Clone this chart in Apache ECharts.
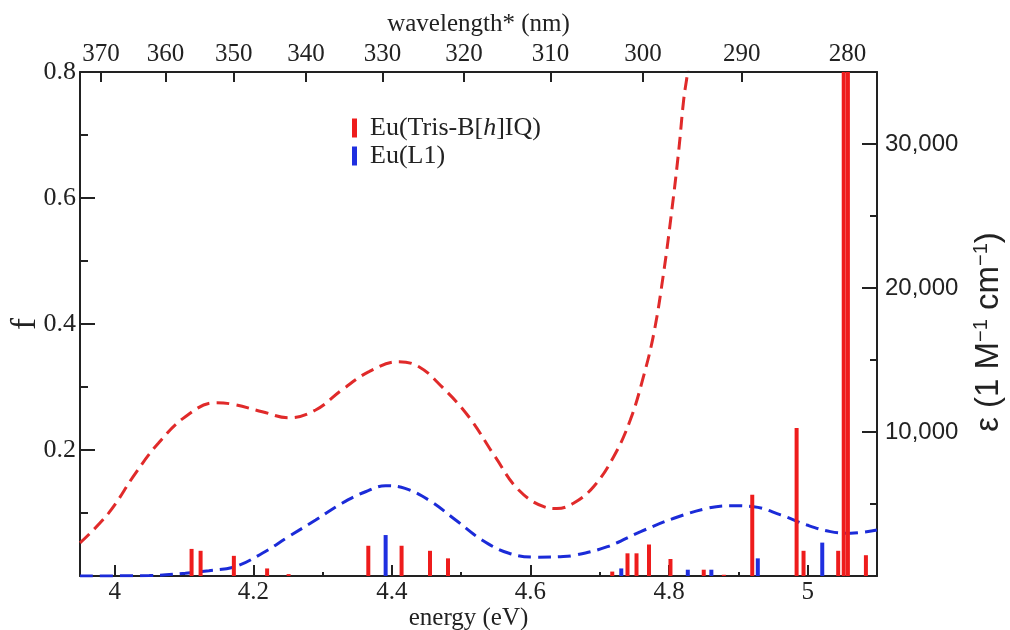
<!DOCTYPE html>
<html><head><meta charset="utf-8">
<script src="https://cdn.jsdelivr.net/npm/echarts@6/dist/echarts.min.js"></script>
<style>html,body{margin:0;padding:0;background:#fff}#c{width:1010px;height:630px}</style>
</head><body><div id="c"></div>
<script>
// ---- data ----
const energyTicks = [4, 4.2, 4.4, 4.6, 4.8, 5];
const energyMinorTicks = [4.1, 4.3, 4.5, 4.7, 4.9];
const wavelengthTicks = [370, 360, 350, 340, 330, 320, 310, 300, 290, 280];
const fTicks = [0.2, 0.4, 0.6, 0.8];
const epsTicks = [10000, 20000, 30000];
const epsMinorTicks = [5000, 15000, 25000];

const redStickEnergy = [4.111, 4.124, 4.172, 4.220, 4.251, 4.366, 4.414, 4.455, 4.481, 4.718, 4.740, 4.753, 4.771, 4.802, 4.850, 4.879, 4.920, 4.984, 4.994, 5.044, 5.052, 5.058, 5.084];
const redStickF = [0.043, 0.040, 0.032, 0.012, 0.003, 0.048, 0.048, 0.040, 0.028, 0.007, 0.036, 0.036, 0.050, 0.027, 0.010, 0.002, 0.129, 0.235, 0.040, 0.040, 1.2, 1.2, 0.033];
const blueStickEnergy = [4.391, 4.731, 4.827, 4.861, 4.928, 5.021];
const blueStickF = [0.065, 0.012, 0.010, 0.010, 0.028, 0.053];

const redCurveEnergy = [3.95, 3.991, 4.030, 4.063, 4.102, 4.145, 4.169, 4.213, 4.251, 4.290, 4.328, 4.367, 4.410, 4.439, 4.472, 4.511, 4.549, 4.583, 4.621, 4.638, 4.662, 4.691, 4.720, 4.744, 4.763, 4.778, 4.792, 4.804, 4.814, 4.821, 4.827, 4.835];
const redCurveEps = [2300, 4350, 7130, 9220, 11060, 12030, 11940, 11410, 10990, 11530, 12920, 14190, 14880, 14530, 13150, 11060, 8280, 5970, 4780, 4680, 5050, 6200, 8280, 10830, 13840, 16850, 21020, 25420, 29580, 33050, 35140, 39500];
const blueCurveEnergy = [3.95, 4.05, 4.102, 4.136, 4.174, 4.213, 4.251, 4.290, 4.328, 4.362, 4.391, 4.419, 4.453, 4.492, 4.530, 4.569, 4.607, 4.643, 4.662, 4.711, 4.759, 4.807, 4.855, 4.888, 4.922, 4.961, 4.999, 5.033, 5.062, 5.100];
const blueCurveEps = [0, 30, 190, 370, 650, 1580, 2730, 3890, 5050, 5850, 6270, 6090, 5280, 3890, 2500, 1580, 1310, 1340, 1420, 2035, 3080, 4010, 4700, 4880, 4810, 4240, 3540, 3080, 2970, 3190];

const seriesNames = ['Eu(Tris-B[h]IQ)', 'Eu(L1)'];
const WL_SHIFT = 0.629; // eV offset of the wavelength* scale: E = 1240/λ + shift

// ---- chart ----
const SERIF = '"Liberation Serif", "DejaVu Serif", serif';
const SANS = '"Liberation Sans", Arial, sans-serif';
const AX = '#222';
const RED = '#ee1c1c', BLUE = '#1f2fe0';
const RED_LINE = '#e02a2a', BLUE_LINE = '#1b2bd8';
const wlToE = wl => 1240 / wl + WL_SHIFT;
const zip = (a, b) => a.map((v, i) => [v, b[i]]);

function stick(color, w) {
  return function (params, api) {
    const x = api.value(0), y = api.value(1);
    const p1 = api.coord([x, y]);
    const p0 = api.coord([x, 0]);
    return { type: 'rect', shape: { x: p1[0] - w / 2, y: p1[1], width: w, height: p0[1] - p1[1] }, style: { fill: color } };
  };
}
const lineStyleAx = { color: AX, width: 2 };
const E_MIN = 3.95, E_MAX = 5.10;

const chart = echarts.init(document.getElementById('c'));
chart.setOption({
  animation: false,
  backgroundColor: '#fff',
  grid: { left: 80, right: 133, top: 72, bottom: 54, containLabel: false, outerBoundsMode: 'none' },
  legend: {
    orient: 'vertical', left: 347, top: 110, itemWidth: 5, itemHeight: 19, itemGap: 2,
    icon: 'rect', data: seriesNames,
    formatter: n => n === seriesNames[0] ? 'Eu(Tris-B[{i|h}]IQ)' : n,
    textStyle: { fontFamily: SERIF, fontSize: 26, color: AX, padding: [0, 0, 0, 8],
      rich: { i: { fontStyle: 'italic', fontFamily: SERIF, fontSize: 26, color: AX } } }
  },
  xAxis: [
    { type: 'value', position: 'bottom', min: E_MIN, max: E_MAX,
      name: 'energy (eV)', nameLocation: 'middle', nameGap: 30, nameMoveOverlap: false,
      nameTextStyle: { fontFamily: SERIF, fontSize: 25, color: AX, padding: [0, 20, 0, 0] },
      axisLine: { show: true, onZero: false, lineStyle: lineStyleAx },
      axisTick: { show: true, inside: true, length: 11, customValues: energyTicks, lineStyle: lineStyleAx },
      axisLabel: { customValues: energyTicks, margin: 4, fontFamily: SERIF, fontSize: 25, color: AX },
      splitLine: { show: false } },
    { type: 'value', position: 'bottom', min: E_MIN, max: E_MAX,
      axisLine: { show: false, onZero: false },
      axisTick: { show: true, inside: true, length: 4, customValues: energyMinorTicks, lineStyle: lineStyleAx },
      axisLabel: { show: false }, splitLine: { show: false } },
    { type: 'value', position: 'top', min: E_MIN, max: E_MAX,
      name: 'wavelength* (nm)', nameLocation: 'middle', nameGap: 35, nameMoveOverlap: false,
      nameTextStyle: { fontFamily: SERIF, fontSize: 25, color: AX },
      axisLine: { show: true, onZero: false, lineStyle: lineStyleAx },
      axisTick: { show: true, inside: true, length: 10, customValues: wavelengthTicks.map(wlToE), lineStyle: lineStyleAx },
      axisLabel: { customValues: wavelengthTicks.map(wlToE), margin: 5, fontFamily: SERIF, fontSize: 25, color: AX,
        formatter: v => String(Math.round(1240 / (v - WL_SHIFT))) },
      splitLine: { show: false } }
  ],
  yAxis: [
    { type: 'value', position: 'left', min: 0, max: 0.8, interval: 0.2,
      name: 'f', nameLocation: 'middle', nameGap: 36, nameMoveOverlap: false,
      nameTextStyle: { fontFamily: SERIF, fontSize: 36, color: AX },
      axisLine: { show: true, onZero: false, lineStyle: lineStyleAx },
      axisTick: { show: true, inside: true, length: 15, lineStyle: lineStyleAx },
      minorTick: { show: true, splitNumber: 2, length: 8, lineStyle: lineStyleAx },
      axisLabel: { customValues: fTicks, margin: 4, fontFamily: SERIF, fontSize: 26, color: AX, formatter: v => v.toFixed(1) },
      splitLine: { show: false }, minorSplitLine: { show: false } },
    { type: 'value', position: 'right', min: 0, max: 35000,
      name: 'ε (1 M{s|−1} cm{s|−1})', nameLocation: 'middle', nameGap: 94, nameMoveOverlap: false,
      nameTextStyle: { fontFamily: SANS, fontSize: 33, color: AX, lineHeight: 36, padding: [0, 16, 0, 0],
        rich: { s: { fontFamily: SANS, fontSize: 20, color: AX, verticalAlign: 'top' } } },
      axisLine: { show: true, onZero: false, lineStyle: lineStyleAx },
      axisTick: { show: true, inside: true, length: 15, customValues: epsTicks, lineStyle: lineStyleAx },
      axisLabel: { customValues: epsTicks, margin: 8, fontFamily: SANS, fontSize: 24, color: AX,
        formatter: v => Number(v).toLocaleString('en-US') },
      splitLine: { show: false } },
    { type: 'value', position: 'right', min: 0, max: 35000,
      axisLine: { show: false, onZero: false },
      axisTick: { show: true, inside: true, length: 7, customValues: epsMinorTicks, lineStyle: lineStyleAx },
      axisLabel: { show: false }, splitLine: { show: false } }
  ],
  series: [
    { type: 'line', xAxisIndex: 0, yAxisIndex: 1, data: zip(redCurveEnergy, redCurveEps),
      smooth: 0.4, symbol: 'none', clip: true, z: 2,
      lineStyle: { color: RED_LINE, width: 3, type: [13, 7] } },
    { type: 'line', xAxisIndex: 0, yAxisIndex: 1, data: zip(blueCurveEnergy, blueCurveEps),
      smooth: 0.4, symbol: 'none', clip: true, z: 2,
      lineStyle: { color: BLUE_LINE, width: 3, type: [13, 7] } },
    { type: 'custom', name: seriesNames[0], xAxisIndex: 0, yAxisIndex: 0, clip: true, z: 3,
      itemStyle: { color: RED }, encode: { x: 0, y: 1 },
      renderItem: stick(RED, 4), data: zip(redStickEnergy, redStickF) },
    { type: 'custom', name: seriesNames[1], xAxisIndex: 0, yAxisIndex: 0, clip: true, z: 3,
      itemStyle: { color: BLUE }, encode: { x: 0, y: 1 },
      renderItem: stick(BLUE, 4), data: zip(blueStickEnergy, blueStickF) }
  ]
});
</script>
</body></html>
